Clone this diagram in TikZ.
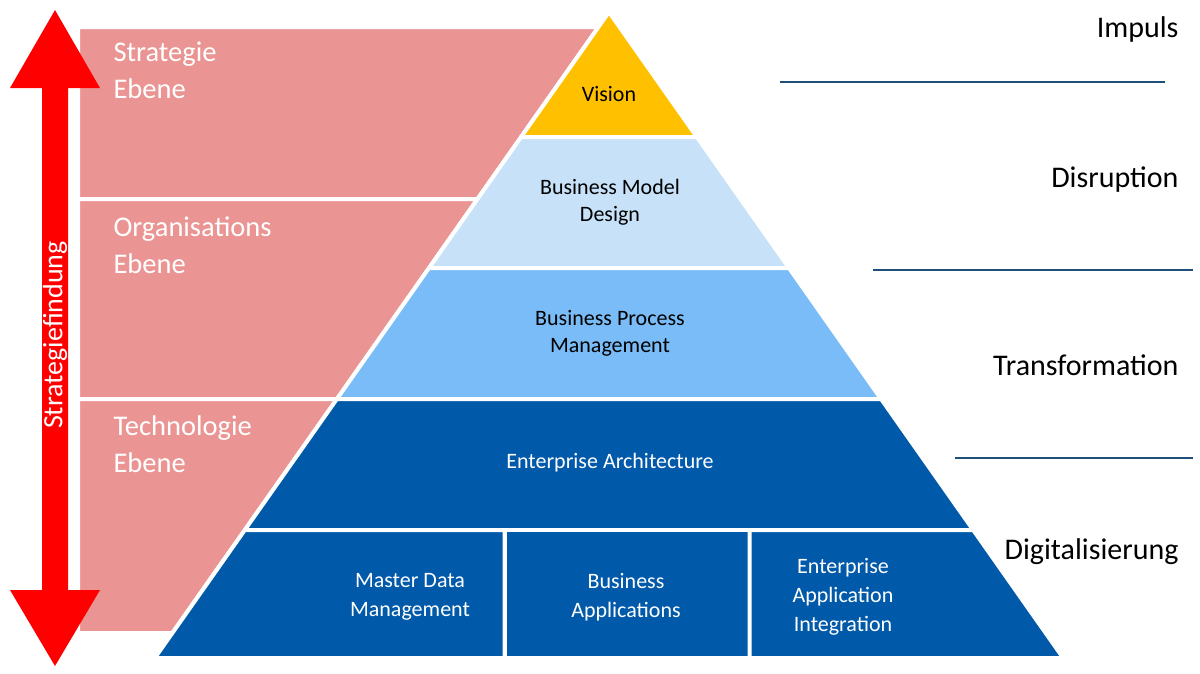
\documentclass[tikz,border=0pt]{standalone}
\usepackage{fontspec}
\setmainfont{Carlito}
\definecolor{pinkish}{HTML}{EA9593}
\definecolor{visionyellow}{HTML}{FFC000}
\definecolor{lightblue}{HTML}{C7E2F8}
\definecolor{midblue}{HTML}{79BCF7}
\definecolor{darkblue}{HTML}{0059A9}
\definecolor{linecol}{HTML}{1F4E79}
\definecolor{arrowred}{HTML}{FF0000}

\begin{document}
\begin{tikzpicture}[x=1pt,y=-1pt]
	\tikzset{layer/.style={draw=white,line width=4pt,line join=round},
		side text/.style={text=white,align=left,anchor=north west,font=\fontsize{28.5}{37}\selectfont},
		dark text/.style={text=white,align=center,font=\fontsize{22}{29}\selectfont},
		light text/.style={text=black,align=center,font=\fontsize{22}{27}\selectfont},
		stage/.style={anchor=east,font=\fontsize{30}{30}\selectfont},
		stage line/.style={linecol,line width=1.2pt}}
	\useasboundingbox (0,0) rectangle (1200,673);
	% pink levels
	\fill [pinkish, layer] (78,27) -- (598.5,27) -- (477.5,199) -- (78,199) -- cycle;
	\fill [pinkish, layer] (78,199) -- (477.5,199) -- (337,399) -- (78,399) -- cycle;
	\fill [pinkish, layer] (78,399) -- (337,399) -- (172.4,633) -- (78,633) -- cycle;
	% red double arrow
	\fill [arrowred] (55,10) -- (100,88) -- (68,88) -- (68,590) -- (100,590) -- (55,666)
		-- (10,590) -- (42,590) -- (42,88) -- (10,88) -- cycle;
	\node (find) [rotate=90, text=white, font=\fontsize{28}{30}\selectfont] at (55,335) {Strategiefindung};
	% pyramid
	\fill [visionyellow, layer] (609,12) -- (696.9,137) -- (521.1,137) -- cycle;
	\fill [lightblue, layer] (521.1,137) -- (696.9,137) -- (789.0,268) -- (429.0,268) -- cycle;
	\fill [midblue, layer] (429.0,268) -- (789.0,268) -- (881.1,399) -- (336.9,399) -- cycle;
	\fill [darkblue, layer] (336.9,399) -- (881.1,399) -- (973.2,530) -- (244.8,530) -- cycle;
	\fill [darkblue, layer] (244.8,530) -- (504.5,530) -- (504.5,658) -- (154.8,658) -- cycle;
	\fill [darkblue, layer] (504.5,530) -- (749.5,530) -- (749.5,658) -- (504.5,658) -- cycle;
	\fill [darkblue, layer] (749.5,530) -- (973.2,530) -- (1063.2,658) -- (749.5,658) -- cycle;
	% level labels
	\node (strat) [side text] at (110,38) {Strategie\\Ebene};
	\node (orga) [side text] at (110,213) {Organisations\\Ebene};
	\node (tech) [side text] at (110,412) {Technologie\\Ebene};
	% layer labels
	\node (vision) [light text] at (609,94) {Vision};
	\node (bmd) [light text] at (610,202) {Business Model\\Design};
	\node (bpm) [light text] at (610,333) {Business Process\\Management};
	\node (ea) [dark text] at (610,463) {Enterprise Architecture};
	\node (mdm) [dark text] at (410,597) {Master Data\\Management};
	\node (apps) [dark text] at (626,597) {Business\\Applications};
	\node (eai) [dark text] at (843,597) {Enterprise\\Application\\Integration};
	% stages on the right
	\node (impuls) [stage] at (1182,29) {Impuls};
	\node (disr) [stage] at (1182,180) {Disruption};
	\node (trans) [stage] at (1182,365) {Transformation};
	\node (digi) [stage] at (1182,552) {Digitalisierung};
	\draw [stage line] (780,82) -- (1165,82);
	\draw [stage line] (873,270) -- (1193,270);
	\draw [stage line] (955,458) -- (1193,458);
\end{tikzpicture}
\end{document}
